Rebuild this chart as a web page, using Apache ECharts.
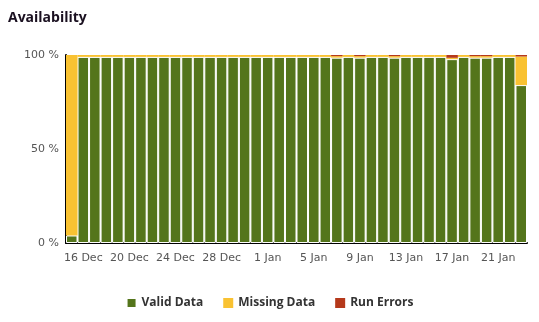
<!DOCTYPE html>
<html>
<head>
<meta charset="utf-8">
<script src="https://cdn.jsdelivr.net/npm/echarts@6/dist/echarts.min.js"></script>
<style>
html,body{margin:0;padding:0;background:#fff;}
#chart{width:539px;height:322px;}
</style>
</head>
<body>
<div id="chart"></div>
<script>
var dates = ['15 Dec','16 Dec','17 Dec','18 Dec','19 Dec','20 Dec','21 Dec','22 Dec','23 Dec','24 Dec',
  '25 Dec','26 Dec','27 Dec','28 Dec','29 Dec','30 Dec','31 Dec','1 Jan','2 Jan','3 Jan',
  '4 Jan','5 Jan','6 Jan','7 Jan','8 Jan','9 Jan','10 Jan','11 Jan','12 Jan','13 Jan',
  '14 Jan','15 Jan','16 Jan','17 Jan','18 Jan','19 Jan','20 Jan','21 Jan','22 Jan','23 Jan'];
var validData = [4, 99, 99, 99, 99, 99, 99, 99, 99, 99,
  99, 99, 99, 99, 99, 99, 99, 99, 99, 99,
  99, 99, 99, 98.6, 99, 98.6, 99, 99, 98.6, 99,
  99, 99, 99, 97.8, 99, 98.6, 98.6, 99, 99, 84];
var missingData = [96, 1, 1, 1, 1, 1, 1, 1, 1, 1,
  1, 1, 1, 1, 1, 1, 1, 1, 1, 1,
  1, 1, 1, 0.8, 1, 0.8, 1, 1, 0.8, 1,
  1, 1, 1, 0.7, 1, 0.8, 0.8, 1, 1, 15.2];
var errorData = [0, 0, 0, 0, 0, 0, 0, 0, 0, 0,
  0, 0, 0, 0, 0, 0, 0, 0, 0, 0,
  0, 0, 0, 0.6, 0, 0.6, 0, 0, 0.6, 0,
  0, 0, 0, 1.5, 0, 0.6, 0.6, 0, 0, 0.8];
var seriesNames = ['Valid Data', 'Missing Data', 'Run Errors'];
var colors = ['#54751b', '#f9c232', '#b5391b'];

var chart = echarts.init(document.getElementById('chart'), null, {renderer: 'canvas'});
var font = 'DejaVu Sans, Verdana, sans-serif';
var font2 = 'Open Sans, DejaVu Sans, sans-serif';
function mk(name, data, color, bw) {
  return {
    name: name, type: 'bar', stack: 'total', data: data,
    barCategoryGap: '0%',
    itemStyle: {color: color, borderColor: '#ffffff', borderWidth: bw},
    emphasis: {disabled: true}
  };
}
chart.setOption({
  animation: false,
  color: colors,
  title: {
    text: 'Availability', left: 3, top: 6,
    textStyle: {fontFamily: font2, fontSize: 14, fontWeight: 'bold', color: '#1a1020'}
  },
  legend: {
    data: seriesNames, bottom: 8, left: 'center',
    icon: 'rect', itemWidth: 10, itemHeight: 10, itemGap: 20,
    textStyle: {fontFamily: font2, fontSize: 12, fontWeight: 'bold', color: '#333'}
  },
  grid: {left: 66, right: 12, top: 55, bottom: 79, containLabel: false},
  xAxis: {
    type: 'category', data: dates, boundaryGap: true,
    axisLine: {lineStyle: {color: '#000', width: 2}},
    axisTick: {
      alignWithLabel: true, length: 8,
      interval: function (i) { return i % 2 === 1; },
      lineStyle: {color: '#c8d0e0'}
    },
    axisLabel: {
      interval: function (i) { return i % 4 === 1; },
      fontFamily: font, fontSize: 11, color: '#555', margin: 10
    }
  },
  yAxis: {
    type: 'value', min: 0, max: 100, interval: 50,
    axisLine: {show: true, lineStyle: {color: '#000', width: 2}},
    axisTick: {show: false},
    splitLine: {show: false},
    axisLabel: {
      formatter: '{value} %', fontFamily: font, fontSize: 11, color: '#555', margin: 7
    }
  },
  series: [
    mk(seriesNames[0], validData, colors[0], 1),
    mk(seriesNames[1], missingData, colors[1], 0),
    mk(seriesNames[2], errorData, colors[2], 0)
  ]
});
</script>
</body>
</html>
